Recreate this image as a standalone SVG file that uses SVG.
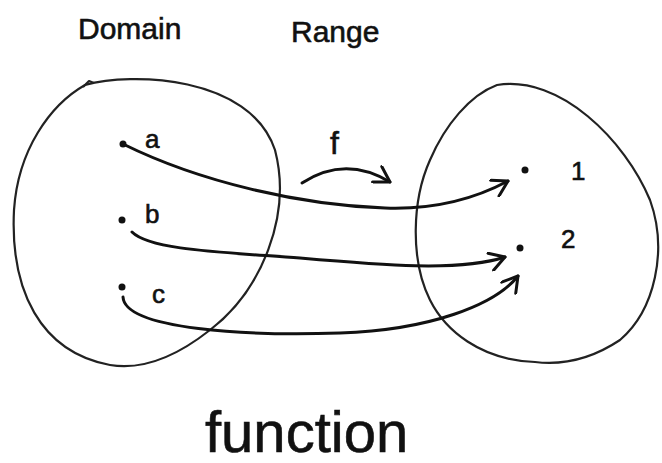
<svg xmlns="http://www.w3.org/2000/svg" width="662" height="463" viewBox="0 0 662 463">
  <style>
    .blob { fill: none; stroke: #222; stroke-width: 2.2; stroke-linejoin: round; }
    .conn { fill: none; stroke: #111; stroke-width: 3; stroke-linecap: round; }
    .dot { fill: #111; }
    .lbl { font-family: "Liberation Sans", Arial, sans-serif; fill: #111; stroke: #111; stroke-width: 0.6; }
    .title { font-size: 30px; }
    .el { font-size: 26px; }
  </style>
  <defs>
    <marker id="chev" markerUnits="userSpaceOnUse" viewBox="0 0 20 20" refX="18" refY="10" markerWidth="20" markerHeight="20" orient="auto">
      <path d="M 3,1 L 18,10 L 3,19" fill="none" stroke="#111" stroke-width="3" stroke-linecap="round" stroke-linejoin="round"/>
    </marker>
  </defs>
  <rect width="662" height="463" fill="#fff"/>

  <g id="domain-label"><text class="lbl title" x="78" y="39">Domain</text></g>
  <g id="range-label"><text class="lbl title" x="291" y="42">Range</text></g>

  <g id="domain">
    <path class="blob" d="M 85,85 C 130,72 250,75 275,150 C 292,215 262,290 210,330 C 172,360 140,370 110,365 C 40,352 10,290 14,210 C 18,150 50,105 85,85 Z"/>
    <path class="blob" d="M 83,87 L 89,81 L 94,83"/>
  </g>
  <g id="range">
    <path class="blob" d="M 497,85 C 560,75 625,140 650,200 C 668,250 655,310 620,340 C 590,360 560,365 535,362 C 480,360 445,330 430,300 C 410,260 412,200 430,160 C 445,125 470,95 497,85 Z"/>
  </g>

  <g id="elem-a"><circle class="dot" cx="123" cy="144" r="3.5"/><text class="lbl el" x="145" y="148">a</text></g>
  <g id="elem-b"><circle class="dot" cx="122" cy="220" r="3.5"/><text class="lbl el" x="145" y="223">b</text></g>
  <g id="elem-c"><circle class="dot" cx="122" cy="287" r="3.5"/><text class="lbl el" x="152" y="303">c</text></g>
  <g id="elem-1"><circle class="dot" cx="525" cy="170" r="3.5"/><text class="lbl el" x="571" y="180">1</text></g>
  <g id="elem-2"><circle class="dot" cx="520" cy="248" r="3.5"/><text class="lbl el" x="561" y="248">2</text></g>

  <g id="connectors">
    <path class="conn" marker-end="url(#chev)" d="M 123,144 C 200,182 300,205 385,208 C 440,210 480,196 508,181"/>
    <path class="conn" marker-end="url(#chev)" d="M 132,232 C 150,250 220,252 300,258 C 380,265 460,272 505,257"/>
    <path class="conn" marker-end="url(#chev)" d="M 123,297 C 125,330 250,336 340,333 C 430,330 495,305 518,276"/>
    <path class="conn" marker-end="url(#chev)" d="M 302,183 Q 345,155 390,182"/>
  </g>

  <g id="f-label"><text class="lbl" font-size="32" x="330" y="154">f</text></g>
  <g id="function-label"><text class="lbl" font-size="58" x="205" y="452">function</text></g>
</svg>
